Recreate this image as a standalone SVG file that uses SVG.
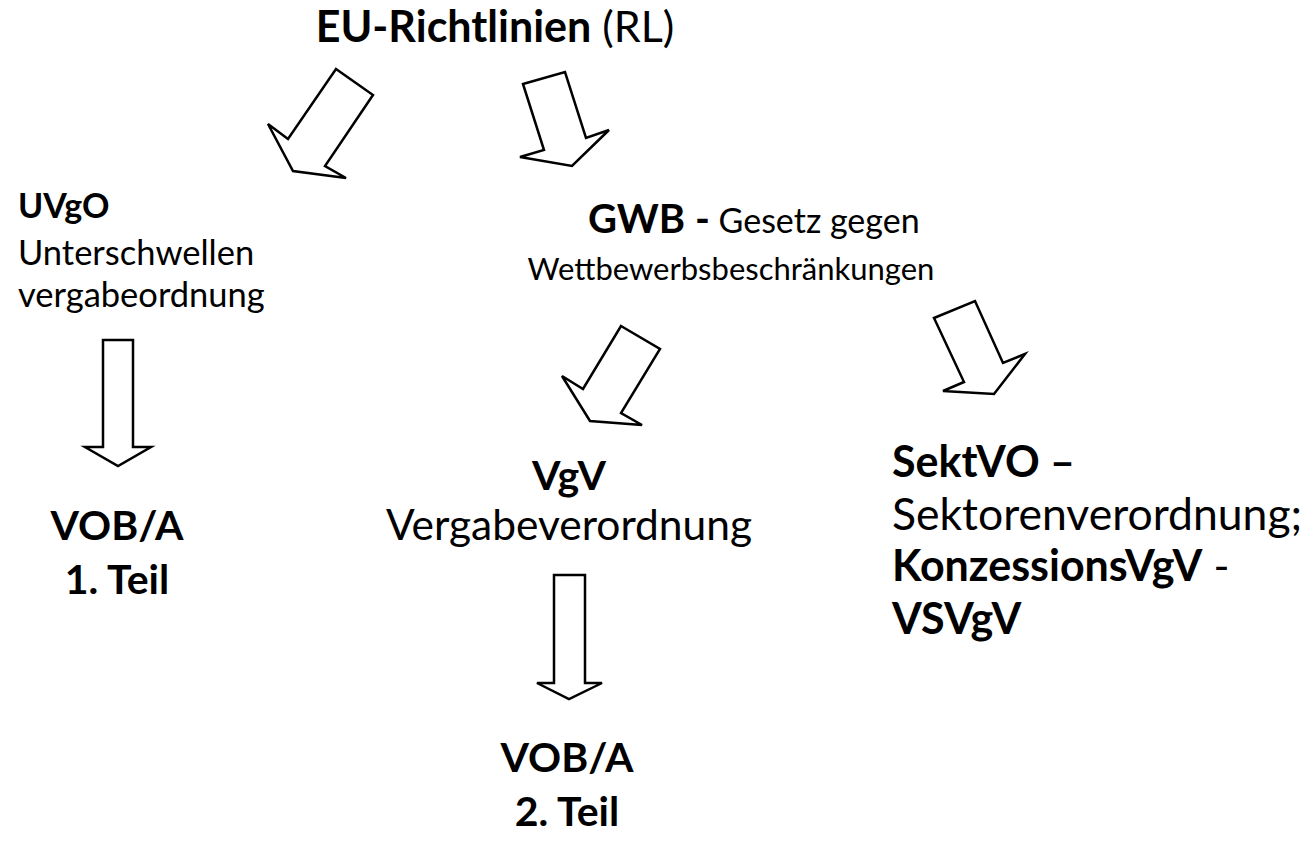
<svg xmlns="http://www.w3.org/2000/svg" width="1311" height="843" viewBox="0 0 1311 843">
<style>
text{font-family:Lato,"Liberation Sans",sans-serif;fill:#000}
.b{font-weight:bold}
.arr{fill:#fff;stroke:#000;stroke-width:2.5;stroke-linejoin:miter}
</style>
<rect width="1311" height="843" fill="#fff"/>
<g id="connectors">
<polygon class="arr" points="336,69 373,95 325,166 346,178 293,171 268,124 288,139"/>
<polygon class="arr" points="523,84 565,72 586,138 609,130 572,166 520,157 544,150"/>
<polygon class="arr" points="621,326 660,349 621,413 642,425 590,421 562,376 583,389"/>
<polygon class="arr" points="934,318 975,301 1003,363 1025,354 994,394 943,391 964,382"/>
<polygon class="arr" points="103,340 133,340 133,447 151,447 118,466 85,447 103,447"/>
<polygon class="arr" points="554,575 585,575 585,683 602,683 569,699 537,683 554,683"/>
</g>
<g id="eu">
<text x="495" y="42" text-anchor="middle" font-size="43"><tspan class="b">EU-Richtlinien</tspan> (RL)</text>
</g>
<g id="uvgo">
<text x="18" y="218" font-size="34" class="b">UVgO</text>
<text x="18" y="265" font-size="34.5">Unterschwellen</text>
<text x="18" y="307" font-size="34.5">vergabeordnung</text>
</g>
<g id="gwb">
<text x="588" y="233" font-size="34"><tspan class="b" font-size="40">GWB -</tspan> Gesetz gegen</text>
<text x="731" y="280" text-anchor="middle" font-size="31">Wettbewerbsbeschränkungen</text>
</g>
<g id="vgv">
<text x="569" y="490" text-anchor="middle" font-size="41" class="b">VgV</text>
<text x="569" y="540" text-anchor="middle" font-size="42.5">Vergabeverordnung</text>
</g>
<g id="vob1">
<text x="117" y="540" text-anchor="middle" font-size="41" class="b">VOB/A</text>
<text x="117" y="594" text-anchor="middle" font-size="41" class="b">1. Teil</text>
</g>
<g id="vob2">
<text x="567" y="772" text-anchor="middle" font-size="41" class="b">VOB/A</text>
<text x="567" y="826" text-anchor="middle" font-size="41" class="b">2. Teil</text>
</g>
<g id="sekt">
<text x="892" y="477" font-size="43" class="b">SektVO –</text>
<text x="892" y="530" font-size="44.5">Sektorenverordnung;</text>
<text x="892" y="581" font-size="43"><tspan class="b">KonzessionsVgV</tspan> -</text>
<text x="892" y="634" font-size="43" class="b">VSVgV</text>
</g>
</svg>
